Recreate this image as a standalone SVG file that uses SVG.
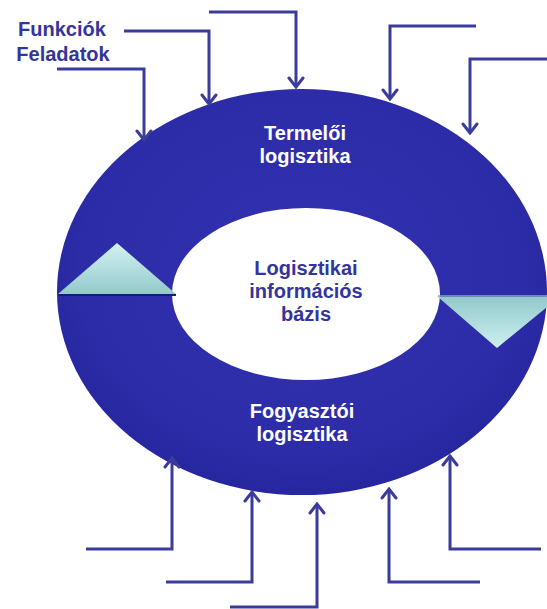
<svg xmlns="http://www.w3.org/2000/svg" width="547" height="609" viewBox="0 0 547 609">
  <defs>
    <radialGradient id="ringGrad" cx="0.5" cy="0.45" r="0.6">
      <stop offset="0" stop-color="#3232b2"/>
      <stop offset="0.75" stop-color="#2c2ca8"/>
      <stop offset="1" stop-color="#23239a"/>
    </radialGradient>
    <linearGradient id="triUp" x1="0" y1="0" x2="0" y2="1">
      <stop offset="0" stop-color="#d3f2f2"/>
      <stop offset="1" stop-color="#93c9cb"/>
    </linearGradient>
    <linearGradient id="triDown" x1="0" y1="0" x2="0" y2="1">
      <stop offset="0" stop-color="#93c9cb"/>
      <stop offset="1" stop-color="#cdeff0"/>
    </linearGradient>
    <marker id="arrow" viewBox="-12 -10 14 20" markerWidth="14" markerHeight="20" refX="0" refY="0" orient="auto" markerUnits="userSpaceOnUse">
      <path d="M-9,-7 L0,0 L-9,7" fill="none" stroke="#3b3b9c" stroke-width="3" stroke-linejoin="miter" stroke-linecap="round"/>
    </marker>
  </defs>
  <style>
    .conn { fill: none; stroke: #3b3b9c; stroke-width: 3; marker-end: url(#arrow); }
    .lbl { font-family: "Liberation Sans", Arial, sans-serif; font-weight: bold; font-size: 20px; text-anchor: middle; }
    .white { fill: #ffffff; }
    .blue { fill: #34349c; }
  </style>

  <g id="ring">
    <path fill="url(#ringGrad)" fill-rule="evenodd" d="M57,292 A245,203 0 1,0 547,292 A245,203 0 1,0 57,292 Z M172,294 A134,86 0 1,1 440,294 A134,86 0 1,1 172,294 Z"/>
  </g>

  <g id="triangle-left">
    <polygon points="58,294 117,243 176,294" fill="url(#triUp)"/>
    <line x1="58" y1="295" x2="176" y2="295" stroke="#1a1a6e" stroke-width="2"/>
  </g>
  <g id="triangle-right">
    <polygon points="438,297 547,297 547,307 497,348" fill="url(#triDown)"/>
    <line x1="438" y1="296" x2="547" y2="296" stroke="#8aa8b8" stroke-width="1.5"/>
  </g>

  <g id="label-termeloi">
    <text class="lbl white" x="305" y="140">Termelői</text>
    <text class="lbl white" x="305" y="163">logisztika</text>
  </g>
  <g id="label-center">
    <text class="lbl blue" x="306" y="275">Logisztikai</text>
    <text class="lbl blue" x="306" y="298">információs</text>
    <text class="lbl blue" x="306" y="321">bázis</text>
  </g>
  <g id="label-fogyasztoi">
    <text class="lbl white" x="302" y="418">Fogyasztói</text>
    <text class="lbl white" x="302" y="441">logisztika</text>
  </g>
  <g id="label-funkciok">
    <text class="lbl blue" x="62" y="36">Funkciók</text>
    <text class="lbl blue" x="63" y="61">Feladatok</text>
  </g>

  <g id="connectors">
    <polyline class="conn" points="57,69 144,69 144,140"/>
    <polyline class="conn" points="124,31 209,31 209,104"/>
    <polyline class="conn" points="209,12 296,12 296,87"/>
    <polyline class="conn" points="476,26 390,26 390,99"/>
    <polyline class="conn" points="547,59 470,59 470,133"/>
    <polyline class="conn" points="86,549 172,549 172,458"/>
    <polyline class="conn" points="166,582 252,582 252,492"/>
    <polyline class="conn" points="230,607 317,607 317,504"/>
    <polyline class="conn" points="480,582 389,582 389,489"/>
    <polyline class="conn" points="541,549 450,549 450,456"/>
  </g>
</svg>
